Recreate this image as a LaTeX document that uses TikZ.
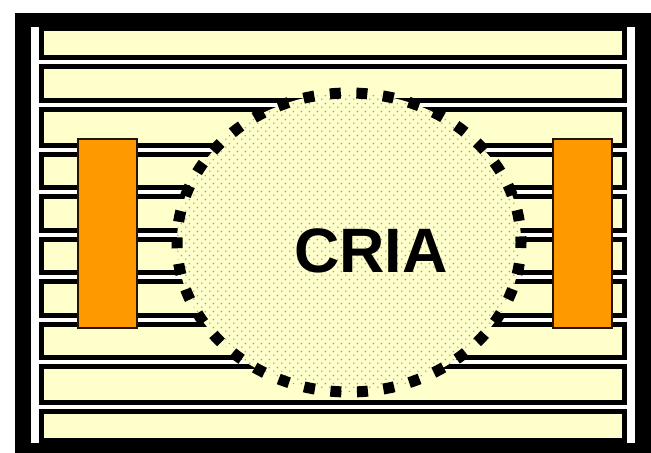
\documentclass[tikz,border=0pt]{standalone}
\usepackage{fontspec}
\setmainfont{Liberation Sans}
\usetikzlibrary{patterns.meta}
\definecolor{stripyellow}{HTML}{FFFFCC}
\definecolor{barorange}{HTML}{FF9900}
\definecolor{dotgray}{HTML}{9C9CAA}
\tikzdeclarepattern{
  name=criadots,
  type=uncolored,
  bottom left={(0bp,0bp)},
  top right={(8bp,8bp)},
  tile size={(8bp,8bp)},
  code={
    \fill (2bp,2bp) circle (0.9bp);
    \fill (6bp,6bp) circle (0.9bp);
  }
}
\tikzset{
  frameouter/.style={fill=black},
  frameinner/.style={fill=white},
  stripbox/.style={fill=stripyellow, draw=black, line width=5bp},
  barbox/.style={fill=barorange, draw=black!85!orange, line width=1.2bp},
  criatext/.style={font=\bfseries\fontsize{63}{63}\selectfont, inner sep=0pt},
}
\begin{document}
\begin{tikzpicture}[x=1bp,y=-1bp]
\useasboundingbox (0,0) rectangle (651,453);
% frame
\fill[frameouter] (15,13) rectangle (651,453);
\fill[frameinner] (31,27) rectangle (635,443);
% strips
\foreach \t/\b in {24/62, 62/105, 105/150, 150/192, 192/235, 235/277, 277/320, 320/362, 362/407, 407/445}
  \draw[stripbox] (41.5,\t+4.5) rectangle (624.5,\b-4.5);
% orange bars
\draw[barbox] (78,139) rectangle (137,328);
\draw[barbox] (553,139) rectangle (612,328);
% CRIA region
\fill[stripyellow] (349,242.5) ellipse [x radius=172, y radius=149.5];
\fill[pattern=criadots, pattern color=dotgray] (349,242.5) ellipse [x radius=172, y radius=149.5];
\draw[line width=11bp, dash pattern=on 11bp off 15.6bp, dash phase=5.5bp] (349,242.5) ellipse [x radius=172, y radius=149.5];
\node[criatext] (cria) at (371,250.5) {CRIA};
\end{tikzpicture}
\end{document}
